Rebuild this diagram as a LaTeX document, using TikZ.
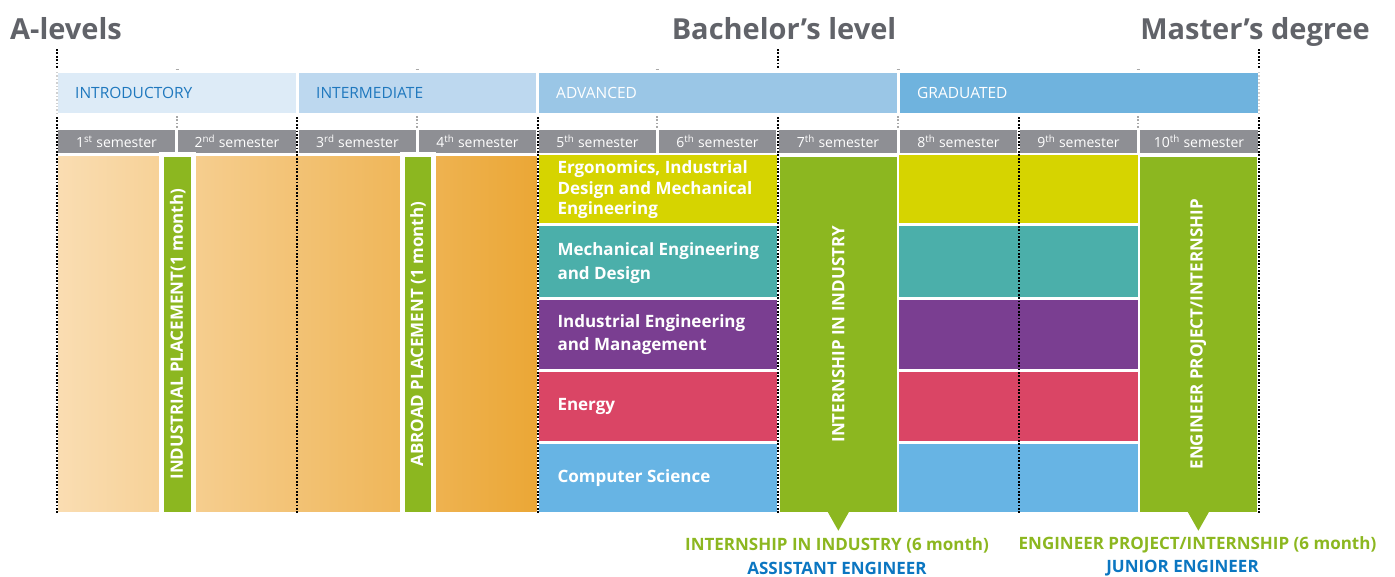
\documentclass[tikz,border=0pt]{standalone}
\usepackage{fontspec}
\setmainfont{Open Sans}
\definecolor{titlegray}{HTML}{616369}
\definecolor{levA}{HTML}{DDEBF7}
\definecolor{levB}{HTML}{BDD8EF}
\definecolor{levC}{HTML}{9AC6E6}
\definecolor{levD}{HTML}{6FB3DE}
\definecolor{levtext}{HTML}{1F78BE}
\definecolor{semgray}{HTML}{8E8F94}
\definecolor{stripgreen}{HTML}{8CB720}
\definecolor{trkyellow}{HTML}{D6D400}
\definecolor{trkteal}{HTML}{4BAFAA}
\definecolor{trkpurple}{HTML}{7A3E91}
\definecolor{trkred}{HTML}{DA4565}
\definecolor{trksky}{HTML}{67B4E4}
\definecolor{beigeL}{HTML}{FADDB2}
\definecolor{beigeR}{HTML}{EBA736}
\definecolor{jobblue}{HTML}{0B76C1}
\definecolor{dotgray}{HTML}{A8A8A8}
\definecolor{faintgray}{HTML}{D0D0D0}
\begin{document}
\begin{tikzpicture}[x=1pt,y=-1pt,
  blk/.style={inner sep=0pt, outer sep=0pt, anchor=north west, draw=none},
  title/.style={anchor=base, inner sep=0pt, text=titlegray, font=\bfseries\fontsize{29}{29}\selectfont},
  levlabel/.style={anchor=west, inner sep=0pt, font=\fontsize{15.5}{15.5}\selectfont},
  semlabel/.style={inner sep=0pt, text=white, font=\fontsize{14}{14}\selectfont},
  trklabel/.style={anchor=west, inner sep=0pt, align=left, text=white, font=\bfseries\fontsize{17}{20.5}\selectfont},
  vlabel/.style={rotate=90, inner sep=0pt, text=white, font=\bfseries\fontsize{17}{17}\selectfont},
  strip/.style={inner sep=0pt, outer sep=0pt, fill=stripgreen, draw=white, line width=5pt, minimum height=360},
  blackdots/.style={draw=black, line width=2.2pt, line cap=butt, dash pattern=on 1.8pt off 1.6pt},
  graydots/.style={draw=dotgray, line width=1.8pt, line cap=butt, dash pattern=on 1.6pt off 1.8pt},
  faintdots/.style={draw=faintgray, line width=1.4pt, line cap=butt, dash pattern=on 1.4pt off 2pt},
  bottomlabel/.style={inner sep=0pt, font=\bfseries\fontsize{17}{17}\selectfont}
]
\useasboundingbox (0,0) rectangle (1395,576);

% titles
\node[title, anchor=base west] (tA) at (10,39) {A-levels};
\node[title] (tB) at (784,39) {Bachelor’s level};
\node[title] (tM) at (1255,39) {Master’s degree};

% level bars
\node[blk, fill=levA, minimum width=238, minimum height=40] (lev1) at (58,73) {};
\node[blk, fill=levB, minimum width=237, minimum height=40] (lev2) at (299,73) {};
\node[blk, fill=levC, minimum width=358, minimum height=40] (lev3) at (539,73) {};
\node[blk, fill=levD, minimum width=358, minimum height=40] (lev4) at (900,73) {};
\node[levlabel, text=levtext] (l1) at ([xshift=17pt]lev1.west) {INTRODUCTORY};
\node[levlabel, text=levtext] (l2) at ([xshift=17pt]lev2.west) {INTERMEDIATE};
\node[levlabel, text=white] (l3) at ([xshift=17pt]lev3.west) {ADVANCED};
\node[levlabel, text=white] (l4) at ([xshift=17pt]lev4.west) {GRADUATED};

% semester bars
\foreach \n/\x/\w/\s in {1/58/117/st, 2/178/118/nd, 3/299/117/rd, 4/419/117/th, 5/539/117/th,
                         6/659/117/th, 7/779/118/th, 8/900/117/th, 9/1020/117/th, 10/1140/118/th}{
  \node[blk, fill=semgray, minimum width=\w, minimum height=23] (sem\n) at (\x,130) {};
  \node[semlabel] (semt\n) at (sem\n.center) {\n\textsuperscript{\s} semester};
}

% beige gradient block (semesters 1-4)
\node[blk, minimum width=478.7, minimum height=355, left color=beigeL, right color=beigeR] (beige) at (58,156.7) {};
\node[strip, minimum width=31.7] (stripA) at (177.65,334.2) {};
\node[strip, minimum width=31] (stripB) at (418,334.2) {};
\node[vlabel] (vA) at (stripA.center) {INDUSTRIAL PLACEMENT(1 month)};
\node[vlabel] (vB) at (stripB.center) {ABROAD PLACEMENT (1 month)};

% tracks, semesters 5-6 and 8-9
\foreach \c/\t/\h/\k in {trkyellow/155/67.7/1, trkteal/225.7/71.6/2, trkpurple/300.3/69/3, trkred/372/69/4, trksky/443.7/68/5}{
  \node[blk, fill=\c, minimum width=238, minimum height=\h] (ta\k) at (539.3,\t) {};
  \node[blk, fill=\c, minimum width=238.4, minimum height=\h] (tb\k) at (899.3,\t) {};
}
\node[trklabel, font=\bfseries\fontsize{17}{20.5}\selectfont] (n1) at ([xshift=18pt,yshift=-1pt]ta1.west) {Ergonomics, Industrial\\Design and Mechanical\\Engineering};
\node[trklabel, font=\bfseries\fontsize{17}{24}\selectfont] (n2) at ([xshift=18pt,yshift=-1.5pt]ta2.west) {Mechanical Engineering\\and Design};
\node[trklabel, font=\bfseries\fontsize{17}{23}\selectfont] (n3) at ([xshift=18pt]ta3.west) {Industrial Engineering\\and Management};
\node[trklabel] (n4) at ([xshift=18pt]ta4.west) {Energy};
\node[trklabel] (n5) at ([xshift=18pt]ta5.west) {Computer Science};

% internships (green)
\node[blk, fill=stripgreen, minimum width=116.7, minimum height=355] (g7) at (780,156.7) {};
\node[blk, fill=stripgreen, minimum width=116.7, minimum height=355] (g10) at (1140,156.7) {};
\fill[stripgreen] ([xshift=-11pt,yshift=0.5pt]g7.south) -- ([xshift=11pt,yshift=0.5pt]g7.south) -- ([yshift=-19pt]g7.south) -- cycle;
\fill[stripgreen] ([xshift=-11pt,yshift=0.5pt]g10.south) -- ([xshift=11pt,yshift=0.5pt]g10.south) -- ([yshift=-19pt]g10.south) -- cycle;
\node[vlabel] (v7) at (g7.center) {INTERNSHIP IN INDUSTRY};
\node[vlabel] (v10) at (g10.center) {ENGINEER PROJECT/INTERNSHIP};

% bottom labels
\node[bottomlabel, text=stripgreen] (b1) at (837,545) {INTERNSHIP IN INDUSTRY (6 month)};
\node[bottomlabel, text=jobblue] (b2) at (837,568) {ASSISTANT ENGINEER};
\node[bottomlabel, text=stripgreen] (b3) at (1197.5,545) {ENGINEER PROJECT/INTERNSHIP (6 month)};
\node[bottomlabel, text=jobblue] (b4) at (1182.5,568) {JUNIOR ENGINEER};

% dotted guide lines
\foreach \x in {57,778,1259}{
  \coordinate (top\x) at (\x,49);
  \coordinate (mid\x) at (\x,68);
  \draw[blackdots] (top\x) -- (mid\x);
}
\draw[faintdots] (57,72) -- (57,113);
\draw[faintdots] (1259,72) -- (1259,113);
\foreach \x in {57,297,538,778,1019,1259}{
  \coordinate (up\x) at (\x,117);
  \coordinate (dn\x) at (\x,513);
  \draw[blackdots] (up\x) -- (dn\x);
}
\foreach \x in {177,417,657,898,1138}{
  \coordinate (gu\x) at (\x,116);
  \coordinate (gd\x) at (\x,128);
  \draw[graydots] (gu\x) -- (gd\x);
  \draw[draw=dotgray, line width=0.8pt] (\x-1.5,69) -- (\x+1.5,69);
}
\end{tikzpicture}
\end{document}
